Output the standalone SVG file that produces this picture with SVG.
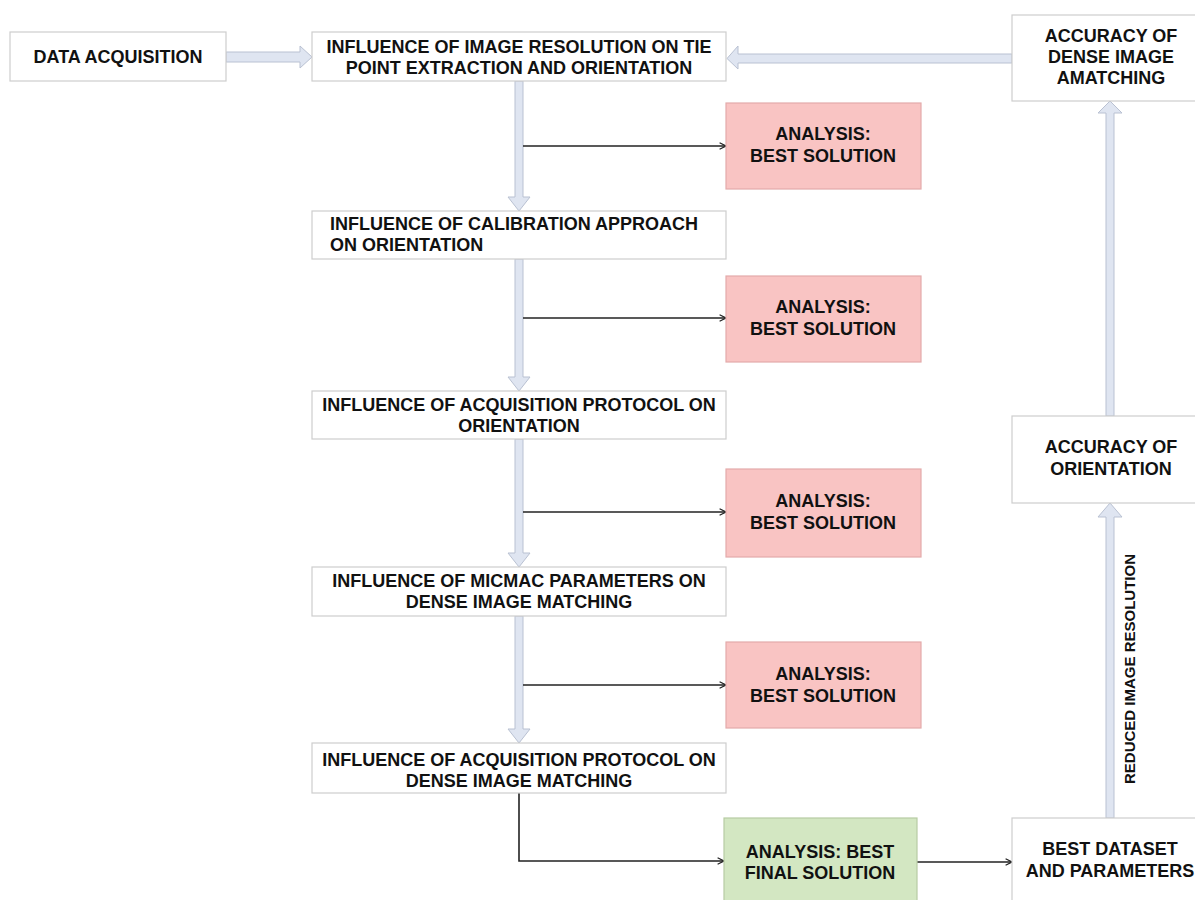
<svg xmlns="http://www.w3.org/2000/svg" width="1195" height="900" viewBox="0 0 1195 900">
  <defs>
    <marker id="open" viewBox="0 0 10 10" refX="9" refY="5" markerWidth="8" markerHeight="8" markerUnits="userSpaceOnUse" orient="auto">
      <path d="M1,1 L9,5 L1,9" fill="none" stroke="#222" stroke-width="1.6"/>
    </marker>
  </defs>
  <style>
    .box { fill: #ffffff; stroke: #cdcdcd; stroke-width: 1.2; }
    .pink { fill: #f9c4c3; stroke: #e3abab; stroke-width: 1.2; }
    .green { fill: #d3e7c2; stroke: #b7cca3; stroke-width: 1.2; }
    .fat { fill: #dfe5f1; stroke: #b9c1d2; stroke-width: 1; }
    .line { fill: none; stroke: #222; stroke-width: 1.6; }
    text { font-family: "Liberation Sans", Arial, sans-serif; font-weight: bold; font-size: 18px; fill: #111; }
    .c { text-anchor: middle; }
    .small { font-size: 15px; }
  </style>
  <rect width="1195" height="900" fill="#ffffff"/>

  <!-- connectors -->
  <g id="connectors">
    <!-- data acquisition to first study -->
    <polygon class="fat" points="226,52 300,52 300,46 312,57 300,68 300,62 226,62"/>
    <!-- feedback from dense matching accuracy -->
    <polygon class="fat" points="1012,54 738,54 738,46 727,58.5 738,69 738,63 1012,63"/>
    <!-- main chain downward -->
    <polygon class="fat" points="515,81 523,81 523,197 530,197 519,211 508,197 515,197"/>
    <polygon class="fat" points="515,259 523,259 523,377 530,377 519,391 508,377 515,377"/>
    <polygon class="fat" points="515,439 523,439 523,553 530,553 519,567 508,553 515,553"/>
    <polygon class="fat" points="515,616 523,616 523,729 530,729 519,743 508,729 515,729"/>
    <!-- right column upward -->
    <polygon class="fat" points="1106,818 1114,818 1114,517 1122,517 1110,503 1098,517 1106,517"/>
    <polygon class="fat" points="1106,416 1114,416 1114,113 1122,113 1110,101 1098,113 1106,113"/>
    <text class="small c" transform="translate(1135,669) rotate(-90)">REDUCED IMAGE RESOLUTION</text>
    <!-- analysis branches -->
    <line class="line" x1="523" y1="146" x2="726" y2="146" marker-end="url(#open)"/>
    <line class="line" x1="523" y1="318" x2="726" y2="318" marker-end="url(#open)"/>
    <line class="line" x1="523" y1="512" x2="726" y2="512" marker-end="url(#open)"/>
    <line class="line" x1="523" y1="685" x2="726" y2="685" marker-end="url(#open)"/>
    <polyline class="line" points="519,793 519,861 724,861" marker-end="url(#open)"/>
    <line class="line" x1="917" y1="862" x2="1012" y2="862" marker-end="url(#open)"/>
  </g>

  <g id="data-acquisition">
    <rect class="box" x="10" y="32" width="216" height="49"/>
    <text class="c" x="118" y="63">DATA ACQUISITION</text>
  </g>

  <g id="image-resolution">
    <rect class="box" x="312" y="32" width="414" height="49"/>
    <text class="c" x="519" y="53">INFLUENCE OF IMAGE RESOLUTION ON TIE</text>
    <text class="c" x="519" y="74">POINT EXTRACTION AND ORIENTATION</text>
  </g>

  <g id="calibration">
    <rect class="box" x="312" y="211" width="414" height="48"/>
    <text x="330" y="230">INFLUENCE OF CALIBRATION APPROACH</text>
    <text x="330" y="251">ON ORIENTATION</text>
  </g>

  <g id="protocol-orientation">
    <rect class="box" x="312" y="391" width="414" height="48"/>
    <text class="c" x="519" y="411">INFLUENCE OF ACQUISITION PROTOCOL ON</text>
    <text class="c" x="519" y="432">ORIENTATION</text>
  </g>

  <g id="micmac">
    <rect class="box" x="312" y="567" width="414" height="49"/>
    <text class="c" x="519" y="587">INFLUENCE OF MICMAC PARAMETERS ON</text>
    <text class="c" x="519" y="608">DENSE IMAGE MATCHING</text>
  </g>

  <g id="protocol-matching">
    <rect class="box" x="312" y="743" width="414" height="50"/>
    <text class="c" x="519" y="766">INFLUENCE OF ACQUISITION PROTOCOL ON</text>
    <text class="c" x="519" y="787">DENSE IMAGE MATCHING</text>
  </g>

  <g id="analysis-1">
    <rect class="pink" x="726" y="103" width="195" height="86"/>
    <text class="c" x="823" y="140">ANALYSIS:</text>
    <text class="c" x="823" y="162">BEST SOLUTION</text>
  </g>

  <g id="analysis-2">
    <rect class="pink" x="726" y="276" width="195" height="86"/>
    <text class="c" x="823" y="313">ANALYSIS:</text>
    <text class="c" x="823" y="335">BEST SOLUTION</text>
  </g>

  <g id="analysis-3">
    <rect class="pink" x="726" y="469" width="195" height="88"/>
    <text class="c" x="823" y="507">ANALYSIS:</text>
    <text class="c" x="823" y="529">BEST SOLUTION</text>
  </g>

  <g id="analysis-4">
    <rect class="pink" x="726" y="642" width="195" height="86"/>
    <text class="c" x="823" y="680">ANALYSIS:</text>
    <text class="c" x="823" y="702">BEST SOLUTION</text>
  </g>

  <g id="analysis-final">
    <rect class="green" x="724" y="818" width="193" height="100"/>
    <text class="c" x="820" y="858">ANALYSIS: BEST</text>
    <text class="c" x="820" y="879">FINAL SOLUTION</text>
  </g>

  <g id="best-dataset">
    <rect class="box" x="1012" y="818" width="200" height="100"/>
    <text class="c" x="1110" y="855">BEST DATASET</text>
    <text class="c" x="1110" y="877">AND PARAMETERS</text>
  </g>

  <g id="accuracy-orientation">
    <rect class="box" x="1012" y="416" width="200" height="87"/>
    <text class="c" x="1111" y="453">ACCURACY OF</text>
    <text class="c" x="1111" y="475">ORIENTATION</text>
  </g>

  <g id="accuracy-matching">
    <rect class="box" x="1012" y="15" width="200" height="86"/>
    <text class="c" x="1111" y="42">ACCURACY OF</text>
    <text class="c" x="1111" y="63">DENSE IMAGE</text>
    <text class="c" x="1111" y="84">AMATCHING</text>
  </g>
</svg>
